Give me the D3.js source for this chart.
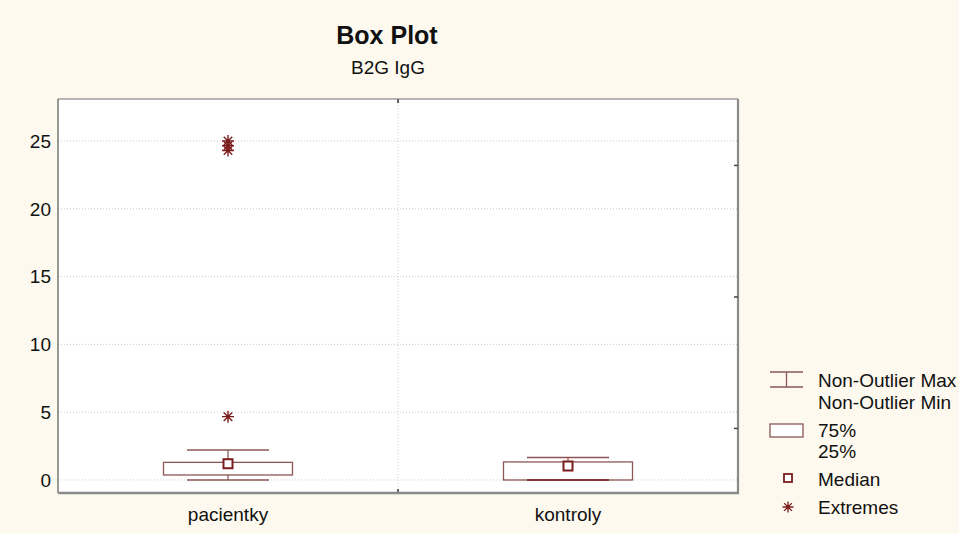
<!DOCTYPE html>
<html>
<head>
<meta charset="utf-8">
<script src="https://cdn.jsdelivr.net/npm/d3@7"></script>
<style>
  html, body { margin: 0; padding: 0; background: #fdf9ee; }
  svg { display: block; }
  text { font-family: "Liberation Sans", Arial, sans-serif; fill: #111; }
</style>
</head>
<body>
<svg id="chart" width="959" height="534"></svg>
<script>
// B2G IgG summary statistics per group
const categories = ["pacientky", "kontroly"];
const whiskerMin = [0.0, 0.0];
const q1 = [0.37, 0.0];
const medians = [1.2, 1.03];
const q3 = [1.3, 1.33];
const whiskerMax = [2.21, 1.65];
const extremes = [[4.67, 24.3, 24.65, 25.0], []];
const yTicks = [0, 5, 10, 15, 20, 25];
const rightTicks = [3.8, 13.5, 23.2];

const legendItems = [
  { kind: "whisker", lines: ["Non-Outlier Max", "Non-Outlier Min"] },
  { kind: "box", lines: ["75%", "25%"] },
  { kind: "median", lines: ["Median"] },
  { kind: "extreme", lines: ["Extremes"] }
];

const svg = d3.select("#chart");
const margin = { left: 58, top: 99, right: 738, bottom: 493 };

const x = d3.scaleBand().domain(categories).range([margin.left, margin.right]).padding(0);
const y = d3.scaleLinear().domain([-0.96, 28.1]).range([margin.bottom, margin.top]);

const boxColor = "#8a5656";
const darkRed = "#7a1c1c";
const gridColor = "#c9c9c9";
const labelSize = "19px";

// Titles
svg.append("text").attr("x", 387).attr("y", 44).attr("text-anchor", "middle")
  .style("font-size", "25px").style("font-weight", "bold").text("Box Plot");
svg.append("text").attr("x", 388).attr("y", 74).attr("text-anchor", "middle")
  .style("font-size", "19px").text("B2G IgG");

// Plot area background
svg.append("rect").attr("x", margin.left).attr("y", margin.top)
  .attr("width", margin.right - margin.left).attr("height", margin.bottom - margin.top)
  .attr("fill", "#ffffff");

// Horizontal grid
svg.append("g").selectAll("line").data(yTicks).join("line")
  .attr("x1", margin.left).attr("x2", margin.right)
  .attr("y1", d => y(d)).attr("y2", d => y(d))
  .attr("stroke", gridColor).attr("stroke-width", 1).attr("stroke-dasharray", "1,2");

// Vertical grid between categories
const sep = x(categories[1]);
svg.append("line").attr("x1", sep).attr("x2", sep)
  .attr("y1", margin.top).attr("y2", margin.bottom)
  .attr("stroke", gridColor).attr("stroke-dasharray", "1,2");
svg.append("line").attr("x1", sep).attr("x2", sep).attr("y1", margin.top).attr("y2", margin.top + 4)
  .attr("stroke", "#333").attr("stroke-width", 1.5);
svg.append("line").attr("x1", sep).attr("x2", sep).attr("y1", margin.bottom - 4).attr("y2", margin.bottom)
  .attr("stroke", "#333").attr("stroke-width", 1.5);

// Frame
svg.append("line").attr("x1", margin.left).attr("x2", margin.right).attr("y1", margin.top).attr("y2", margin.top)
  .attr("stroke", "#6e6e6e").attr("stroke-width", 1.2);
svg.append("line").attr("x1", margin.left).attr("x2", margin.left).attr("y1", margin.top).attr("y2", margin.bottom)
  .attr("stroke", "#555").attr("stroke-width", 1.2);
svg.append("line").attr("x1", margin.right).attr("x2", margin.right).attr("y1", margin.top).attr("y2", margin.bottom + 1)
  .attr("stroke", "#8a8a8a").attr("stroke-width", 2.2);
svg.append("line").attr("x1", margin.left).attr("x2", margin.right + 1).attr("y1", margin.bottom).attr("y2", margin.bottom)
  .attr("stroke", "#8a8a8a").attr("stroke-width", 2.6);

// Right-side tick marks
svg.append("g").selectAll("line").data(rightTicks).join("line")
  .attr("x1", margin.right - 4).attr("x2", margin.right)
  .attr("y1", d => y(d)).attr("y2", d => y(d))
  .attr("stroke", "#444").attr("stroke-width", 1.5);

// Y axis labels
svg.append("g").selectAll("text").data(yTicks).join("text")
  .attr("x", 51).attr("y", d => y(d)).attr("dy", "0.36em")
  .attr("text-anchor", "end").style("font-size", labelSize).text(d => d);

// Category labels
svg.append("g").selectAll("text").data(categories).join("text")
  .attr("x", d => x(d) + x.bandwidth() / 2).attr("y", 521)
  .attr("text-anchor", "middle").style("font-size", labelSize).text(d => d);

// Star marker path
function starPath(cx, cy, r) {
  let p = "";
  for (let i = 0; i < 4; i++) {
    const a = i * Math.PI / 4;
    const dx = Math.sin(a) * r, dy = Math.cos(a) * r;
    p += `M${cx - dx},${cy - dy}L${cx + dx},${cy + dy}`;
  }
  return p;
}

const boxW = 129, capW = 82, medS = 9;

categories.forEach((c, i) => {
  const cx = x(c) + x.bandwidth() / 2;
  const g = svg.append("g");
  // whisker stems
  g.append("line").attr("x1", cx).attr("x2", cx).attr("y1", y(whiskerMax[i])).attr("y2", y(q3[i]))
    .attr("stroke", boxColor).attr("stroke-width", 1.2);
  g.append("line").attr("x1", cx).attr("x2", cx).attr("y1", y(q1[i])).attr("y2", y(whiskerMin[i]))
    .attr("stroke", boxColor).attr("stroke-width", 1.2);
  // box
  g.append("rect").attr("x", cx - boxW / 2).attr("y", y(q3[i]))
    .attr("width", boxW).attr("height", y(q1[i]) - y(q3[i]))
    .attr("fill", "#ffffff").attr("stroke", boxColor).attr("stroke-width", 1.3);
  // caps
  g.append("line").attr("x1", cx - capW / 2).attr("x2", cx + capW / 2)
    .attr("y1", y(whiskerMax[i])).attr("y2", y(whiskerMax[i]))
    .attr("stroke", boxColor).attr("stroke-width", 1.5);
  g.append("line").attr("x1", cx - capW / 2).attr("x2", cx + capW / 2)
    .attr("y1", y(whiskerMin[i])).attr("y2", y(whiskerMin[i]))
    .attr("stroke", i === 1 ? darkRed : boxColor).attr("stroke-width", 1.5);
  // median
  g.append("rect").attr("x", cx - medS / 2).attr("y", y(medians[i]) - medS / 2)
    .attr("width", medS).attr("height", medS)
    .attr("fill", "#ffffff").attr("stroke", darkRed).attr("stroke-width", 2);
  // extremes
  g.selectAll("path").data(extremes[i]).join("path")
    .attr("d", d => starPath(cx, y(d), 6))
    .attr("stroke", darkRed).attr("stroke-width", 1.4).attr("fill", "none");
});

// Legend
const lg = svg.append("g");
const symX = 770, symW = 33, textX = 818;
// whisker symbol
lg.append("line").attr("x1", symX).attr("x2", symX + symW).attr("y1", 372).attr("y2", 372).attr("stroke", boxColor).attr("stroke-width", 1.3);
lg.append("line").attr("x1", symX).attr("x2", symX + symW).attr("y1", 387).attr("y2", 387).attr("stroke", boxColor).attr("stroke-width", 1.3);
lg.append("line").attr("x1", symX + symW / 2).attr("x2", symX + symW / 2).attr("y1", 372).attr("y2", 387).attr("stroke", boxColor).attr("stroke-width", 1.3);
// box symbol
lg.append("rect").attr("x", symX).attr("y", 424).attr("width", symW).attr("height", 13)
  .attr("fill", "#ffffff").attr("stroke", boxColor).attr("stroke-width", 1.3);
// median symbol
lg.append("rect").attr("x", 788 - 4).attr("y", 478 - 4).attr("width", 8).attr("height", 8)
  .attr("fill", "#ffffff").attr("stroke", darkRed).attr("stroke-width", 1.8);
// extreme symbol
lg.append("path").attr("d", starPath(788, 507, 5.5)).attr("stroke", darkRed).attr("stroke-width", 1.3).attr("fill", "none");

const legendTextY = [[380, 402], [430, 451], [479], [507]];
legendItems.forEach((item, i) => {
  item.lines.forEach((t, j) => {
    lg.append("text").attr("x", textX).attr("y", legendTextY[i][j]).attr("dy", "0.36em")
      .style("font-size", labelSize).text(t);
  });
});
</script>
</body>
</html>
